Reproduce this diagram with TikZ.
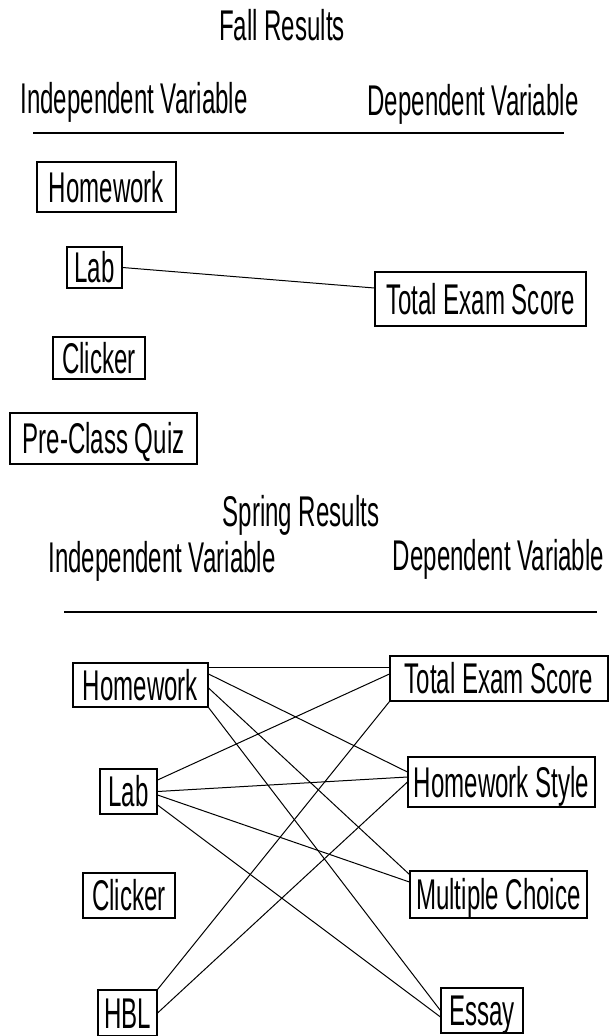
\documentclass[tikz,border=0pt]{standalone}
\usepackage{fontspec}
\setmainfont[FakeStretch=0.56]{Liberation Sans}
\tikzset{
  varbox/.style={draw, line width=1.1pt, inner sep=0pt, text height=30.5pt, text depth=0pt,
    font=\fontsize{43}{50}\selectfont},
  headtext/.style={anchor=base, inner sep=0pt, font=\fontsize{43}{50}\selectfont},
  link/.style={line width=1pt},
  rule/.style={line width=1.2pt}
}
\begin{document}
\begin{tikzpicture}[x=1pt,y=-1pt]
      \useasboundingbox (0,0) rectangle (610,1036);
      % fall
      \node[headtext] at (282,40) (fallt){Fall Results};
      \node[headtext] at (134,113) (indA){Independent Variable};
      \node[headtext] at (473,115) (depA){Dependent Variable};
      \draw[rule] (33,133) -- (564,133);
      \node[varbox, minimum width=139pt, minimum height=50pt] at (106.5,187) (hwA){Homework};
      \node[varbox, minimum width=55pt, minimum height=41pt] at (94.5,267.5) (labA){Lab};
      \node[varbox, minimum width=211pt, minimum height=54pt] at (480.5,299) (tesA){Total Exam Score};
      \node[varbox, minimum width=92pt, minimum height=42pt] at (99,358) (clA){Clicker};
      \node[varbox, minimum width=187pt, minimum height=51pt] at (103.5,438.5) (pcq){Pre-Class Quiz};
      \draw[link] (labA.east) -- ([yshift=11pt]tesA.west);
      % spring
      \node[headtext] at (301,526) (springt){Spring Results};
      \node[headtext] at (162,572) (indB){Independent Variable};
      \node[headtext] at (498.5,570) (depB){Dependent Variable};
      \draw[rule] (64,612) -- (597,612);
      \node[varbox, minimum width=135pt, minimum height=44pt] at (140.5,685) (hwB){Homework};
      \node[varbox, minimum width=57pt, minimum height=45pt] at (128.5,791.5) (labB){Lab};
      \node[varbox, minimum width=92pt, minimum height=45pt] at (129,895.5) (clB){Clicker};
      \node[varbox, minimum width=59pt, minimum height=46pt] at (127.5,1013) (hbl){HBL};
      \node[varbox, minimum width=218pt, minimum height=45pt] at (499,678.5) (tesB){Total Exam Score};
      \node[varbox, minimum width=187pt, minimum height=50pt] at (501.5,782) (hs){Homework Style};
      \node[varbox, minimum width=177pt, minimum height=47pt] at (498.5,894.5) (mc){Multiple Choice};
      \node[varbox, minimum width=82pt, minimum height=45pt] at (482,1010.5) (essay){Essay};
      \draw[link] ([yshift=-5pt]hwB.north east) -- ([yshift=-5pt]hwB.north east -| tesB.west);
      \draw[link] ([yshift=11pt]hwB.east) -- ([yshift=10pt]hs.west);
      \draw[link] ([yshift=-3pt]hwB.east) -- ([yshift=-4pt]mc.north west);
      \draw[link] (hwB.south east) -- (essay.west);
      \draw[link] ([yshift=11.5pt]labB.east) -- ([yshift=4.5pt]tesB.west);
      \draw[link] (labB.east) -- ([yshift=5pt]hs.west);
      \draw[link] ([yshift=-3.5pt]labB.east) -- ([yshift=12.5pt]mc.west);
      \draw[link] ([yshift=-13.5pt]labB.east) -- ([yshift=-6.5pt]essay.west);
      \draw[link] (hbl.north east) -- (tesB.south west);
      \draw[link] (hbl.east) -- (hs.west);
\end{tikzpicture}
\end{document}
